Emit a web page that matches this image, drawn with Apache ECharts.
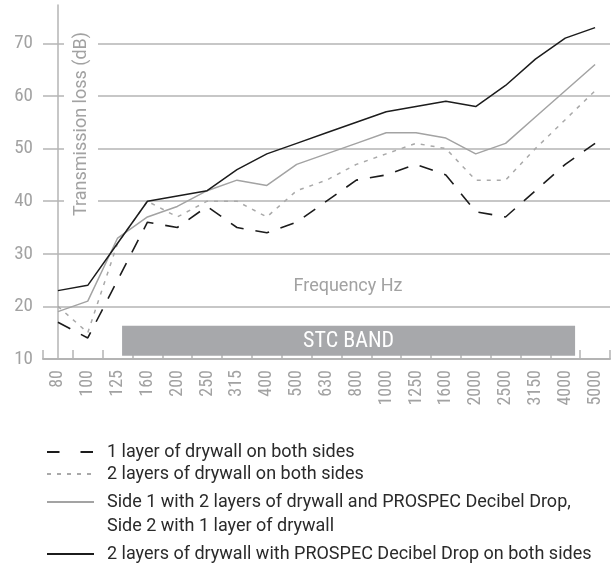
<!DOCTYPE html>
<html><head><meta charset="utf-8">
<script src="https://cdn.jsdelivr.net/npm/echarts@6/dist/echarts.min.js"></script>
<style>html,body{margin:0;padding:0;background:#fff}#c{width:611px;height:563px}</style>
</head><body><div id="c"></div>
<script>
// ---- data ----
const frequencies = ['80','100','125','160','200','250','315','400','500','630','800','1000','1250','1600','2000','2500','3150','4000','5000'];
const oneLayerBothSides       = [17,14,25,36,35,39,35,34,36,40,44,45,47,45,38,37,42,47,51];
const twoLayersBothSides      = [20,15,32,40,37,40,40,37,42,44,47,49,51,50,44,44,50,55.5,61];
const side1ProspecSide2Single = [19,21,33,37,39,42,44,43,47,49,51,53,53,52,49,51,56,61,66];
const twoLayersProspecBoth    = [23,24,32,40,41,42,46,49,51,53,55,57,58,59,58,62,67,71,73];
const seriesNames = [
  '1 layer of drywall on both sides',
  '2 layers of drywall on both sides',
  'Side 1 with 2 layers of drywall and PROSPEC Decibel Drop,\nSide 2 with 1 layer of drywall',
  '2 layers of drywall with PROSPEC Decibel Drop on both sides'
];
const yMin = 10, yMax = 77.3, yInterval = 10;
// STC band in category-index units: [fromIndex, toIndex, fromDb, toDb]
const stcBand = [[2.15, 17.33, 10.6, 16.3]];
const stcLabel = 'STC BAND';
const yAxisTitle = 'Transmission loss (dB)';
const xAxisTitle = 'Frequency Hz';

// ---- styles ----
const COND = '"Roboto Condensed", Roboto, sans-serif';
const REG = 'Roboto, "Liberation Sans", sans-serif';
const AXIS_GRAY = '#b4b4b4';
const TEXT_GRAY = '#a2a2a2';
const BLACK = '#1c1c1c';

const chart = echarts.init(document.getElementById('c'), null, {renderer:'canvas'});

function legendFor(i, top, lineType, extraText, formatter) {
  const l = {
    data: [{name: seriesNames[i]}],
    orient: 'vertical', left: 46, top: top,
    itemWidth: 47, itemHeight: 10, padding: 0,
    selectedMode: false,
    itemStyle: {opacity: 0, borderWidth: 0},
    textStyle: Object.assign({color:'#2a2a2a', fontSize:18, fontFamily:REG, padding:[0,0,0,8]}, extraText || {}),
    lineStyle: Object.assign({width:2}, lineType ? {type: lineType} : {})
  };
  if (formatter) l.formatter = formatter;
  return l;
}

const option = {
  animation: false,
  grid: {left: 43, right: 1, top: 5, bottom: 204, containLabel: false},
  xAxis: [{
    type: 'category', data: frequencies, boundaryGap: true,
    axisLine: {show: true, lineStyle: {color: AXIS_GRAY, width: 2}},
    axisTick: {show: true, inside: true, length: 9, lineStyle: {color: AXIS_GRAY, width: 1.5}},
    axisLabel: {rotate: 90, interval: 0, color: TEXT_GRAY, fontSize: 18, fontFamily: COND, margin: 11},
    splitLine: {show: false}
  }, {
    type: 'value', min: -0.5, max: 18.5, show: false
  }],
  yAxis: {
    type: 'value', min: yMin, max: yMax, interval: yInterval,
    axisLine: {show: true, lineStyle: {color: AXIS_GRAY, width: 1.5}},
    axisTick: {show: false},
    axisLabel: {showMaxLabel: false, color: TEXT_GRAY, fontSize: 19, fontFamily: COND, margin: 10},
    splitLine: {show: true, showMaxLine: false, showMinLine: false, lineStyle: {color: AXIS_GRAY, width: 1.5}}
  },
  legend: [
    legendFor(0, 443, [12.5, 21]),
    legendFor(1, 465, [4, 6]),
    // blank first line keeps the icon level with the first text line
    legendFor(2, 466, null, {lineHeight: 24}, function (name) { return '\n' + name; }),
    legendFor(3, 545, null)
  ],
  graphic: [
    {type:'text', x: 81, y: 124, rotation: Math.PI/2, z: 100,
     style: {text: yAxisTitle, font: '18px ' + REG, fill: TEXT_GRAY, align: 'center', verticalAlign: 'middle',
             lineHeight: 22, backgroundColor: '#fff', padding: [11, 3, 1, 3]}},
    {type:'text', x: 348, y: 286, z: 100,
     style: {text: xAxisTitle, font: '18px ' + REG, fill: TEXT_GRAY, align: 'center', verticalAlign: 'middle'}}
  ],
  series: [
    {name: seriesNames[0], type: 'line', data: oneLayerBothSides, symbol: 'none', z: 4,
     lineStyle: {color: BLACK, width: 1.6, type: [14, 12]}, itemStyle: {color: BLACK}},
    {name: seriesNames[1], type: 'line', data: twoLayersBothSides, symbol: 'none', z: 3,
     lineStyle: {color: '#a9a9a9', width: 1.5, type: [4, 6]}, itemStyle: {color: '#a9a9a9'}},
    {name: seriesNames[2], type: 'line', data: side1ProspecSide2Single, symbol: 'none', z: 3,
     lineStyle: {color: '#a3a3a3', width: 1.5}, itemStyle: {color: '#a3a3a3'}},
    {name: seriesNames[3], type: 'line', data: twoLayersProspecBoth, symbol: 'none', z: 5,
     lineStyle: {color: BLACK, width: 1.5}, itemStyle: {color: BLACK}},
    {name: 'STC', type: 'custom', xAxisIndex: 1, yAxisIndex: 0, data: stcBand, z: 2, clip: false,
     encode: {x: [0, 1], y: [2, 3]},
     renderItem: function (params, api) {
       const p0 = api.coord([api.value(0), api.value(3)]);
       const p1 = api.coord([api.value(1), api.value(2)]);
       return {type: 'group', children: [
         {type: 'rect', shape: {x: p0[0], y: p0[1], width: p1[0] - p0[0], height: p1[1] - p0[1]},
          style: {fill: '#a7a8ab'}},
         {type: 'text', style: {text: stcLabel, x: (p0[0] + p1[0]) / 2, y: (p0[1] + p1[1]) / 2 + 1,
          align: 'center', verticalAlign: 'middle', fill: '#ffffff', font: '22px ' + COND}}
       ]};
     }}
  ]
};
chart.setOption(option);
</script></body></html>
